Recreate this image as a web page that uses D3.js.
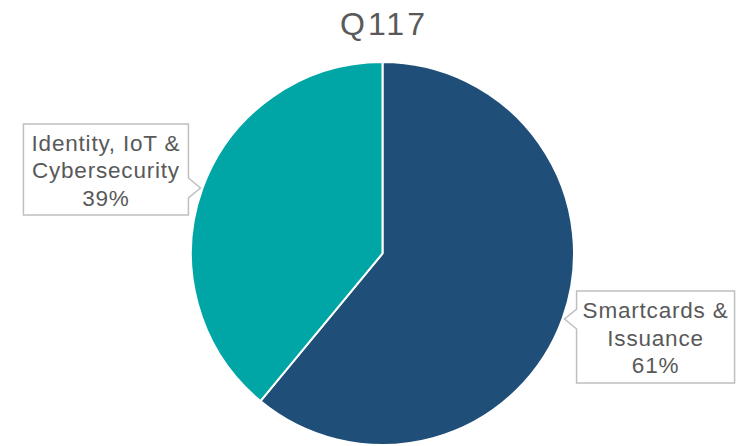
<!DOCTYPE html>
<html>
<head>
<meta charset="utf-8">
<script src="https://cdn.jsdelivr.net/npm/d3@7"></script>
<style>
body{margin:0;background:#fff;}
text{font-family:"Liberation Sans",Arial,sans-serif;fill:#595959;}
</style>
</head>
<body>
<div id="chart"></div>
<script>
var title = "Q117";
var categories = ["Smartcards & Issuance", "Identity, IoT & Cybersecurity"];
var labelLines = [["Smartcards &", "Issuance"], ["Identity, IoT &", "Cybersecurity"]];
var values = [61, 39];
var colors = ["#1F4E79", "#00A5A6"];

var W = 739, H = 446;
var svg = d3.select("#chart").append("svg").attr("width", W).attr("height", H);

var cx = 382.5, cy = 253.5, r = 191.5;

svg.append("text")
	.attr("x", 384).attr("y", 35)
	.attr("text-anchor", "middle")
	.attr("font-size", 32)
	.attr("letter-spacing", 3)
	.text(title);

var pie = d3.pie().sort(null)(values);
var arc = d3.arc().innerRadius(0).outerRadius(r);

var g = svg.append("g").attr("transform", "translate(" + cx + "," + cy + ")");
g.selectAll("path").data(pie).enter().append("path")
	.attr("d", arc)
	.attr("fill", function(d, i){ return colors[i]; })
	.attr("stroke", "#fff")
	.attr("stroke-width", 2);

// callout boxes, placed from the pointer tip at each slice's mid angle
var boxes = [
	{w: 158, h: 92, side: 1, top: -28},
	{w: 165, h: 91, side: -1, top: -64}
];

pie.forEach(function(d, i){
	var a = (d.startAngle + d.endAngle) / 2;
	var tx = cx + Math.sin(a) * (r + 2);
	var ty = cy - Math.cos(a) * (r + 2);
	var b = boxes[i];
	var bx = b.side > 0 ? tx + 12 : tx - 12 - b.w;
	var by = ty + b.top;
	var pts;
	if (b.side > 0) {
		pts = [[bx, by], [bx + b.w, by], [bx + b.w, by + b.h], [bx, by + b.h], [bx, ty + 10], [tx, ty], [bx, ty - 10]];
	} else {
		pts = [[bx, by], [bx + b.w, by], [bx + b.w, ty - 10], [tx, ty], [bx + b.w, ty + 10], [bx + b.w, by + b.h], [bx, by + b.h]];
	}
	svg.append("path")
		.attr("d", d3.line()(pts) + "Z")
		.attr("fill", "#fff")
		.attr("stroke", "#BFBFBF")
		.attr("stroke-width", 1.5);
	var lines = labelLines[i].concat([values[i] + "%"]);
	var t = svg.append("text")
		.attr("text-anchor", "middle")
		.attr("font-size", 22.5)
		.attr("letter-spacing", 0.8);
	lines.forEach(function(s, k){
		t.append("tspan")
			.attr("x", bx + b.w / 2)
			.attr("y", by + 27 + k * 27.5)
			.text(s);
	});
});
</script>
</body>
</html>
